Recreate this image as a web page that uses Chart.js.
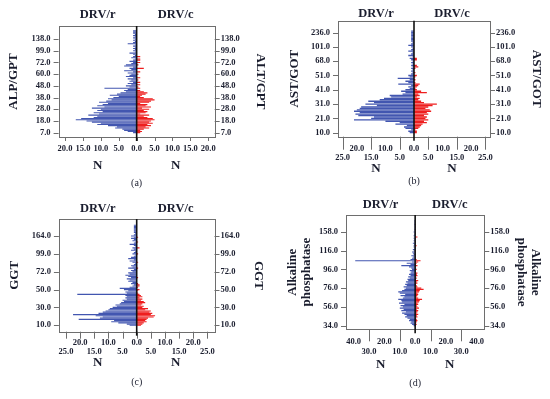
<!DOCTYPE html>
<html>
<head>
<meta charset="utf-8">
<script src="https://cdn.jsdelivr.net/npm/chart.js@4"></script>
<style>
body { margin: 0; background: #fff; }
#fig { position: relative; width: 550px; height: 399px; }
#fig canvas { position: absolute; }
</style>
</head>
<body>
<div id="fig">
<canvas id="ca" width="275" height="200" style="left:0;top:0"></canvas>
<canvas id="cb" width="275" height="200" style="left:275px;top:0"></canvas>
<canvas id="cc" width="275" height="199" style="left:0;top:200px"></canvas>
<canvas id="cd" width="275" height="199" style="left:275px;top:200px"></canvas>
</div>
<script>
// y categories: one label every `step` bins, bins counted from the bottom
const altTicks = ['7.0', '18.0', '28.0', '38.0', '48.0', '60.0', '72.0', '99.0', '138.0'];
const astTicks = ['10.0', '21.0', '31.0', '41.0', '51.0', '68.0', '101.0', '236.0'];
const ggtTicks = ['10.0', '30.0', '50.0', '72.0', '99.0', '164.0'];
const alpTicks = ['34.0', '56.0', '76.0', '96.0', '116.0', '158.0'];

// N per bin, DRV/r (left, blue) and DRV/c (right, red)
const altR = [1.0, 2.5, 3.5, 4.0, 6.0, 5.5, 8.0, 11.0, 10.0, 12.5,
    14.0, 17.0, 15.5, 12.0, 11.0, 13.5, 10.5, 12.0, 9.5, 11.0,
    10.0, 12.5, 9.0, 11.0, 9.5, 8.0, 10.5, 8.5, 7.0, 8.0,
    6.5, 5.0, 7.5, 5.5, 4.5, 3.0, 3.5, 2.5, 9.0, 2.0,
    3.0, 1.5, 2.5, 1.0, 2.0, 1.5, 2.5, 1.0, 3.0, 2.0,
    1.5, 2.5, 1.0, 3.5, 1.5, 2.0, 1.0, 3.5, 3.0, 1.5,
    1.0, 2.0, 1.0, 0.5, 1.5, 1.0, 0.5, 1.0, 2.0, 0.5,
    1.0, 0.5, 1.0, 0.5, 1.0, 0.5, 2.5, 1.0, 0.5, 1.0,
    0.5, 1.0, 0.5, 1.0, 0.5, 1.0, 1.0, 1.0];
const altC = [1.0, 1.5, 1.0, 2.0, 3.5, 2.5, 4.0, 3.0, 4.5, 3.5,
    4.0, 5.0, 4.5, 3.0, 2.0, 3.5, 1.0, 2.5, 3.0, 2.0,
    3.5, 1.5, 4.0, 2.5, 3.0, 1.0, 3.5, 4.0, 5.0, 4.5,
    2.0, 1.0, 1.5, 2.5, 3.0, 2.0, 1.0, 0, 1.0, 0.5,
    0, 1.0, 0, 1.0, 0, 0.5, 0, 1.0, 0, 0,
    0.5, 0, 1.0, 0, 0, 2.0, 0, 0, 0.5, 0,
    1.0, 0, 1.0, 1.0, 0, 1.0, 0, 0, 0, 0,
    0, 0, 0, 0, 0, 0, 0, 0, 0, 0,
    0, 0, 0, 0, 0, 0, 0, 0];

const astR = [1.5, 2.0, 1.0, 3.0, 3.5, 2.5, 6.5, 5.0, 10.0, 21.0,
    15.0, 14.0, 19.5, 20.5, 19.0, 21.0, 20.0, 19.0, 18.5, 13.0,
    17.0, 14.0, 16.0, 12.0, 10.5, 8.0, 8.5, 4.0, 3.0, 4.5,
    3.0, 1.5, 2.0, 1.0, 5.5, 2.0, 3.0, 1.5, 5.7, 1.5,
    2.0, 1.0, 0.5, 1.0, 0.5, 1.0, 0.5, 1.0, 0.5, 1.0,
    0.5, 1.0, 1.5, 0.5, 2.0, 1.0, 0.5, 2.0, 1.0, 0.5,
    1.0, 2.0, 1.0, 0.5, 1.0, 1.0, 1.0, 1.0, 1.0, 1.0,
    1.0, 1.0];
const astC = [1.0, 1.0, 0.5, 1.5, 2.0, 2.5, 3.0, 4.5, 3.5, 5.0,
    4.0, 4.5, 3.5, 5.0, 4.5, 6.0, 5.5, 4.0, 5.0, 6.5,
    8.0, 3.5, 2.5, 1.5, 2.0, 1.0, 2.0, 1.5, 4.5, 2.5,
    1.0, 0.5, 1.0, 1.5, 2.0, 0.5, 0, 0.5, 0, 0.5,
    1.0, 0, 0.5, 0, 0, 0.5, 1.5, 1.0, 0, 0,
    0, 1.0, 1.0, 0, 0, 0, 0, 0, 0, 0,
    0, 0, 0, 0, 0, 0, 0, 0, 0, 0,
    0, 0];

const ggtR = [2.5, 3.5, 6.5, 9.0, 8.0, 20.5, 13.0, 12.0, 14.5, 22.5,
    13.5, 12.0, 11.0, 10.0, 9.5, 8.5, 7.0, 7.5, 6.0, 5.5,
    4.5, 5.0, 3.5, 4.0, 3.5, 4.0, 21.0, 3.5, 4.0, 3.0,
    4.5, 6.0, 2.5, 1.5, 1.0, 2.0, 1.5, 3.0, 2.5, 3.5,
    2.0, 3.0, 4.0, 2.5, 3.0, 1.5, 2.0, 1.0, 3.0, 1.5,
    2.0, 1.0, 0.5, 1.5, 2.5, 1.0, 3.0, 2.0, 1.0, 0.5,
    1.5, 1.0, 0.5, 2.0, 1.0, 1.5, 0.5, 1.0, 2.5, 1.0,
    0.5, 1.5, 1.0, 2.0, 1.0, 2.0, 1.0, 0.5, 1.0, 1.0,
    1.0, 1.0, 1.0, 1.0, 1.0];
const ggtC = [1.5, 2.0, 2.5, 3.5, 3.0, 3.5, 4.0, 6.0, 6.5, 5.0,
    5.5, 4.5, 5.0, 3.0, 4.0, 2.0, 2.5, 1.5, 2.0, 3.0,
    2.5, 1.5, 2.0, 1.0, 2.0, 1.5, 1.0, 0.5, 0, 0.5,
    1.0, 0, 0.5, 1.0, 1.0, 0.5, 0, 0, 0, 0,
    0.5, 0, 0, 0, 0, 0, 0, 0, 0.5, 0,
    0, 0, 0, 0.5, 0, 0, 0, 0, 0, 0,
    0.5, 0, 0, 0, 0, 1.0, 0, 0, 0, 0,
    0.5, 0, 0, 0, 0.5, 0, 0, 0, 0, 0,
    0, 0, 0, 0, 0];

const alpR = [1.0, 2.0, 3.0, 2.5, 4.0, 3.5, 5.0, 6.5, 5.5, 7.0,
    8.5, 6.0, 9.0, 7.5, 10.0, 8.0, 9.5, 7.0, 10.5, 8.5,
    9.0, 11.0, 8.0, 7.0, 9.5, 6.5, 10.0, 11.0, 8.5, 7.0,
    6.0, 7.5, 5.5, 6.5, 5.0, 6.0, 4.5, 5.0, 3.5, 4.5,
    3.0, 4.0, 3.0, 2.5, 3.5, 2.0, 2.5, 4.0, 9.0, 3.0,
    5.5, 2.0, 39.0, 3.0, 2.0, 1.5, 2.5, 1.0, 1.5, 2.0,
    1.0, 1.5, 0.5, 1.0, 1.0, 0.5, 1.5, 0.5, 1.0, 0.5,
    1.0, 0.5, 1.0, 0.5, 0.5, 1.0, 0.5, 0.5, 0.5, 0.5,
    0.5, 0.5, 0.5, 0.5, 0.5];
const alpC = [0.5, 1.0, 0.5, 1.0, 1.5, 1.0, 0.5, 1.5, 1.0, 2.0,
    1.0, 1.5, 2.0, 1.0, 2.5, 1.5, 1.0, 2.0, 1.5, 2.5,
    3.0, 4.5, 2.0, 1.0, 1.5, 2.0, 1.5, 2.5, 3.0, 5.5,
    4.0, 1.5, 1.0, 0.5, 1.5, 1.0, 2.0, 0.5, 1.0, 0.5,
    1.5, 1.0, 1.5, 0.5, 0.5, 1.0, 0.5, 0.5, 1.5, 0.5,
    1.0, 2.0, 3.5, 1.0, 0.5, 0.5, 0, 0.5, 0, 0,
    0.5, 0, 0, 0.5, 1.0, 0, 0, 0.5, 0, 0,
    0.5, 1.5, 0, 0, 0.5, 0, 0, 0.5, 0, 0.5,
    0, 0.5, 0, 0, 0];

// x (N) tick values
const nTicks20 = [-20, -15, -10, -5, 0, 5, 10, 15, 20];
const nTicks25 = [-25, -20, -15, -10, -5, 0, 5, 10, 15, 20, 25];
const nTicks40 = [-40, -30, -20, -10, 0, 10, 20, 30, 40];

const SERIF = "'Liberation Serif', 'Times New Roman', serif";
const BLUE = 'rgb(66, 86, 176)';
const RED = 'rgb(238, 30, 30)';
const INK = '#1a1d2e';

// box, centre line, tick marks and the loose texts round each panel
const frame = {
    id: 'frame',
    afterDatasetsDraw(chart, args, o) {
        const { ctx, chartArea: a } = chart;
        const x = chart.scales.x, y = chart.scales.y;
        const x0 = x.getPixelForValue(0);
        ctx.save();
        ctx.lineWidth = 1;
        ctx.strokeStyle = '#6e6e6e';
        ctx.strokeRect(Math.round(a.left) + 0.5, Math.round(a.top) + 0.5, Math.round(a.width), Math.round(a.height));
        ctx.beginPath();
        o.yTicks.forEach((t, k) => {
            const py = Math.round(y.getPixelForValue(k * o.step)) + 0.5;
            ctx.moveTo(a.left - 5, py); ctx.lineTo(a.left, py);
            ctx.moveTo(a.right, py); ctx.lineTo(a.right + 5, py);
        });
        o.xMarks.forEach(v => {
            const px = Math.round(x.getPixelForValue(v)) + 0.5;
            ctx.moveTo(px, a.bottom); ctx.lineTo(px, a.bottom + o.markLen);
        });
        ctx.stroke();
        ctx.strokeStyle = '#111';
        ctx.lineWidth = 1.6;
        ctx.beginPath();
        ctx.moveTo(x0, a.top); ctx.lineTo(x0, a.bottom + 4);
        ctx.stroke();

        const lc = (a.left + x0) / 2, rc = (x0 + a.right) / 2;
        ctx.fillStyle = INK;
        ctx.textAlign = 'center';
        ctx.textBaseline = 'middle';
        ctx.font = 'bold 12.5px ' + SERIF;
        ctx.fillText('DRV/r', lc, o.headY);
        ctx.fillText('DRV/c', rc, o.headY);
        ctx.font = 'bold 13px ' + SERIF;
        ctx.fillText('N', lc, o.nY);
        ctx.fillText('N', rc, o.nY);
        ctx.font = '10px ' + SERIF;
        ctx.fillText(o.caption, x0, o.capY);
        ctx.restore();
    }
};

function pyramid(id, p) {
    const cv = document.getElementById(id);
    const W = cv.width, H = cv.height, b = p.box;
    const tickFont = { family: SERIF, size: 8.5, weight: 'bold' };
    const titleFont = { family: SERIF, size: 13, weight: 'bold', lineHeight: p.titleLH || 1.2 };
    const yBuild = s => { s.ticks = p.yTicks.map((t, k) => ({ value: k * p.step })); };
    const yLabel = (v, i) => p.yTicks[i];
    const xLabel = v => {
        const t = Math.abs(v).toFixed(1);
        if (!p.rows) return t;
        return v % p.rows === 0 ? [t, ''] : ['', t];
    };
    const yAxis = (pos, width, pad, tpad, text) => ({
        type: 'linear', position: pos, min: p.yMin, max: p.yMax, offset: false,
        grid: { display: false, drawTicks: false }, border: { display: false },
        afterBuildTicks: yBuild,
        afterFit: s => { s.width = width; },
        ticks: { autoSkip: false, padding: pad, color: INK, font: tickFont, callback: yLabel },
        title: { display: true, text: text, color: INK, font: titleFont, padding: { top: tpad, bottom: 0 } }
    });

    new Chart(cv, {
        type: 'bar',
        data: {
            datasets: [{
                label: 'DRV/r',
                data: p.left.map((v, i) => ({ x: -v, y: i })),
                backgroundColor: BLUE,
            }, {
                label: 'DRV/c',
                data: p.right.map((v, i) => ({ x: v, y: i })),
                backgroundColor: RED,
            }]
        },
        options: {
            indexAxis: 'y',
            responsive: false,
            animation: false,
            devicePixelRatio: 1,
            layout: { padding: { top: b.t, left: 0, right: 0, bottom: 0 } },
            datasets: { bar: { grouped: false, barPercentage: 1, categoryPercentage: 0.95 } },
            plugins: {
                legend: { display: false },
                tooltip: { enabled: false },
                frame: {
                    yTicks: p.yTicks, step: p.step, xMarks: p.xMarks, markLen: p.markLen,
                    headY: p.headY, nY: p.nY, capY: p.capY, caption: p.caption
                }
            },
            scales: {
                x: {
                    type: 'linear', min: p.xMin, max: p.xMax,
                    grid: { display: false, drawTicks: false }, border: { display: false },
                    afterBuildTicks: s => { s.ticks = p.xTicks.map(v => ({ value: v })); },
                    afterFit: s => { s.height = H - b.b; },
                    ticks: {
                        autoSkip: false, maxRotation: 0, padding: p.xPad, color: INK,
                        font: Object.assign({ lineHeight: p.rowH + 'px' }, tickFont),
                        callback: xLabel
                    }
                },
                y: yAxis('left', b.l, 8, p.ltPad, p.leftTitle),
                y2: yAxis('right', W - b.r, 6, p.rtPad, p.rightTitle)
            }
        },
        plugins: [frame]
    });
}

pyramid('ca', {
    box: { l: 58.6, t: 26, r: 214.7, b: 137 },
    left: altR, right: altC, yTicks: altTicks, step: 10, yMin: -3.7, yMax: 91.2,
    xMin: -21.8, xMax: 21.8, xTicks: nTicks20, rows: 0, rowH: 12, xPad: 5.3,
    xMarks: nTicks20, markLen: 4,
    leftTitle: 'ALP/GPT', rightTitle: 'ALT/GPT', ltPad: 6.2, rtPad: 7.2,
    headY: 15, nY: 166, capY: 183, caption: '(a)'
});
pyramid('cb', {
    box: { l: 63, t: 20.7, r: 215, b: 136.7 },
    left: astR, right: astC, yTicks: astTicks, step: 10, yMin: -2.8, yMax: 78.3,
    xMin: -26.6, xMax: 26.6, xTicks: nTicks25, rows: 10, rowH: 9, xPad: 7.1,
    xMarks: [-25, -15, -5, 5, 15, 25], markLen: 13,
    leftTitle: 'AST/GOT', rightTitle: 'AST/GOT', ltPad: 12.2, rtPad: 5.5,
    headY: 13.3, nY: 168.3, capY: 181.7, caption: '(b)'
});
pyramid('cc', {
    box: { l: 58.9, t: 19, r: 214.5, b: 131.7 },
    left: ggtR, right: ggtC, yTicks: ggtTicks, step: 15, yMin: -5.4, yMax: 89.3,
    xMin: -27.5, xMax: 27.5, xTicks: nTicks25, rows: 10, rowH: 9, xPad: 6.5,
    xMarks: nTicks25, markLen: 7,
    leftTitle: 'GGT', rightTitle: 'GGT', ltPad: 7.2, rtPad: 8.9,
    headY: 8.3, nY: 162.7, capY: 182.7, caption: '(c)'
});
pyramid('cd', {
    box: { l: 71, t: 15, r: 209.3, b: 129.3 },
    left: alpR, right: alpC, yTicks: alpTicks, step: 15, yMin: -2.9, yMax: 88.6,
    xMin: -45, xMax: 45, xTicks: nTicks40, rows: 20, rowH: 10, xPad: 7.4,
    xMarks: [-30, -10, 10, 30], markLen: 12,
    leftTitle: ['Alkaline', 'phosphatase'], rightTitle: ['Alkaline', 'phosphatase'],
    titleLH: '14px', ltPad: 11, rtPad: 8,
    headY: 5, nY: 164.3, capY: 183.3, caption: '(d)'
});
</script>
</body>
</html>
